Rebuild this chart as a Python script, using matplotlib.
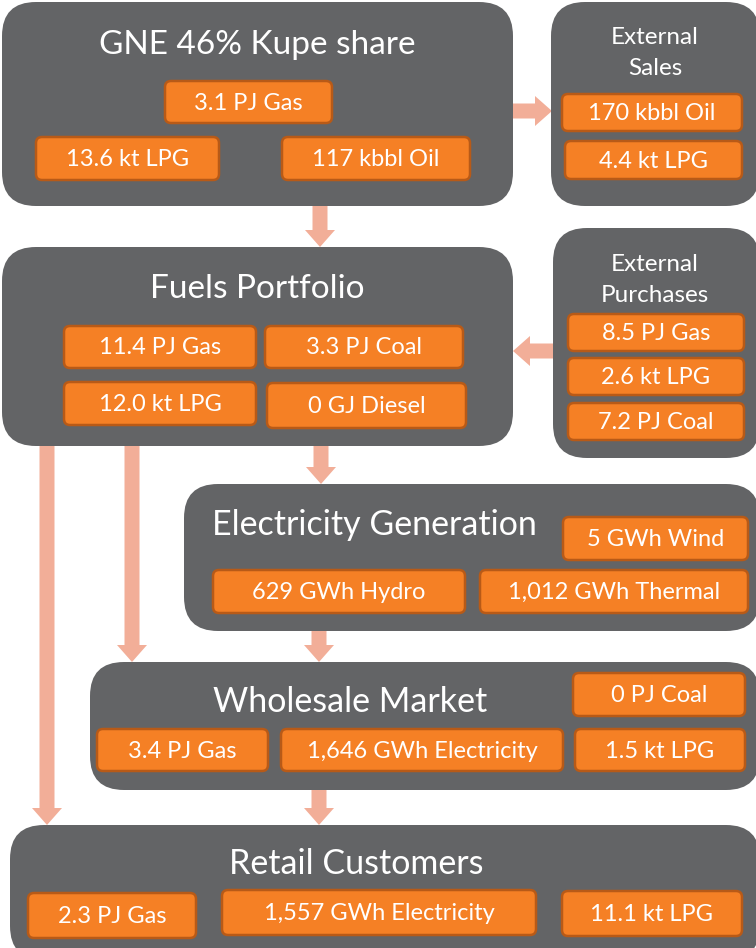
import matplotlib
matplotlib.use('Agg')
import matplotlib.pyplot as plt
from matplotlib.patches import FancyBboxPatch

plt.rcParams['font.family'] = ['Lato', 'DejaVu Sans']

# box titles
titles = ['GNE 46% Kupe share', 'External\nSales', 'Fuels Portfolio', 'External\nPurchases',
          'Electricity Generation', 'Wholesale Market', 'Retail Customers']

# quantities shown in the orange tags, per box
kupe_items = ['3.1 PJ Gas', '13.6 kt LPG', '117 kbbl Oil']
sales_items = ['170 kbbl Oil', '4.4 kt LPG']
fuels_items = ['11.4 PJ Gas', '3.3 PJ Coal', '12.0 kt LPG', '0 GJ Diesel']
purch_items = ['8.5 PJ Gas', '2.6 kt LPG', '7.2 PJ Coal']
gen_items = ['5 GWh Wind', '629 GWh Hydro', '1,012 GWh Thermal']
whole_items = ['0 PJ Coal', '3.4 PJ Gas', '1,646 GWh Electricity', '1.5 kt LPG']
retail_items = ['2.3 PJ Gas', '1,557 GWh Electricity', '11.1 kt LPG']

GRAY = '#636466'
ORANGE = '#F58025'
EDGE = '#B85A17'
ARROW = '#F2AE98'

# layout (pixels, y down): big boxes x0, y0, x1, y1
big = [(2, 2, 513, 206), (551, 2, 760, 206), (2, 247, 513, 446), (553, 228, 760, 458),
       (184, 484, 760, 631), (90, 662, 760, 790), (10, 825, 760, 960)]
title_pos = [(257, 45, 'center', 24), (655, 53, 'center', 17.5), (257, 289, 'center', 24),
             (655, 280, 'center', 17.5), (212, 525, 'left', 24.5), (350, 702, 'center', 24.5),
             (356, 864, 'center', 24.5)]

tag_boxes = [
    (kupe_items, [(165, 81, 332, 123), (36, 137, 219, 180), (282, 137, 470, 180)]),
    (sales_items, [(562, 94, 742, 131), (565, 141, 742, 179)]),
    (fuels_items, [(64, 326, 256, 368), (265, 326, 463, 368), (64, 382, 256, 425), (267, 383, 466, 428)]),
    (purch_items, [(568, 314, 744, 351), (568, 358, 744, 395), (568, 403, 744, 440)]),
    (gen_items, [(563, 517, 748, 560), (213, 570, 465, 613), (480, 570, 748, 613)]),
    (whole_items, [(573, 673, 745, 716), (97, 729, 268, 771), (281, 729, 563, 771), (575, 729, 745, 771)]),
    (retail_items, [(28, 893, 196, 938), (222, 890, 536, 935), (562, 891, 742, 936)]),
]

# arrows: x, y start, dx, dy
arrows = [(513, 111, 39, 0), (320, 206, 0, 41), (553, 351, -40, 0), (321, 446, 0, 38),
          (132, 446, 0, 216), (47, 446, 0, 379), (319, 631, 0, 31), (319, 790, 0, 35)]

fig = plt.figure(figsize=(7.56, 9.48), dpi=100)
ax = fig.add_axes([0, 0, 1, 1])
ax.set_xlim(0, 756)
ax.set_ylim(948, 0)
ax.axis('off')

for (x0, y0, x1, y1) in big:
    ax.add_patch(FancyBboxPatch((x0, y0), x1 - x0, y1 - y0,
                                boxstyle='round,pad=0,rounding_size=34',
                                fc=GRAY, ec='none', zorder=1))

for t, (x, y, ha, fs) in zip(titles, title_pos):
    ax.text(x, y, t, ha=ha, va='center', color='white', fontsize=fs,
            linespacing=1.6, zorder=3)

for items, rects in tag_boxes:
    for label, (x0, y0, x1, y1) in zip(items, rects):
        ax.add_patch(FancyBboxPatch((x0, y0), x1 - x0, y1 - y0,
                                    boxstyle='round,pad=0,rounding_size=6',
                                    fc=ORANGE, ec=EDGE, lw=1.8, zorder=2))
        ax.text((x0 + x1) / 2, (y0 + y1) / 2 + 1, label, ha='center', va='center',
                color='white', fontsize=17, zorder=3)

for (x, y, dx, dy) in arrows:
    ax.arrow(x, y, dx, dy, width=15, head_width=30, head_length=17,
             length_includes_head=True, fc=ARROW, ec='none', zorder=0)

fig.savefig('out.png', dpi=100)
